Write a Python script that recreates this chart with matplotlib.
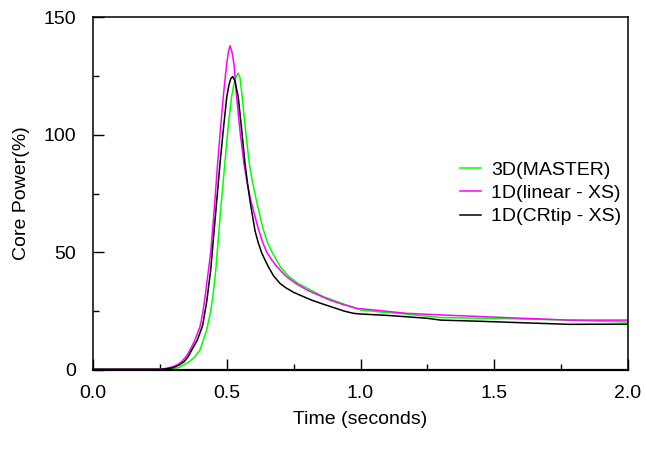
import matplotlib
matplotlib.use('Agg')
import matplotlib.pyplot as plt
from matplotlib.ticker import MultipleLocator, FormatStrFormatter

plt.rcParams['font.family'] = ['Liberation Sans', 'DejaVu Sans']

# 3D(MASTER)
t_master = [0.0, 0.28, 0.32, 0.36, 0.38, 0.40, 0.412, 0.425, 0.44, 0.45, 0.459, 0.475,
            0.493, 0.506, 0.518, 0.526, 0.535, 0.543, 0.549, 0.556, 0.570, 0.584, 0.596,
            0.609, 0.623, 0.637, 0.653, 0.67, 0.685, 0.699, 0.73, 0.766, 0.80, 0.83,
            0.86, 0.897, 0.95, 1.0, 1.08, 1.15, 1.30, 1.45, 1.6, 1.78, 1.9, 2.0]
p_master = [0.3, 0.3, 1.0, 3.5, 5.5, 8.5, 12.7, 17.0, 25.0, 33.0, 42.5, 65.0,
            88.0, 104.0, 116.0, 121.0, 124.8, 126.1, 124.5, 118.0, 102.0, 88.0, 80.0,
            73.0, 66.0, 59.5, 54.0, 50.0, 47.0, 44.0, 40.0, 36.8, 34.8, 33.0,
            31.2, 29.7, 27.5, 25.5, 24.6, 24.0, 22.3, 22.0, 21.7, 21.2, 20.7, 20.4]

# 1D(linear-XS)
t_linear = [0.0, 0.25, 0.28, 0.30, 0.32, 0.335, 0.35, 0.365, 0.381, 0.40, 0.41, 0.42,
            0.43, 0.44, 0.453, 0.466, 0.477, 0.487, 0.494, 0.500, 0.506, 0.512, 0.520,
            0.527, 0.537, 0.550, 0.564, 0.577, 0.59, 0.606, 0.618, 0.635, 0.65, 0.67,
            0.687, 0.72, 0.755, 0.80, 0.85, 0.886, 0.93, 0.986, 1.05, 1.17, 1.30, 1.45,
            1.6, 1.78, 2.0]
p_linear = [0.3, 0.3, 0.8, 1.5, 2.5, 4.0, 6.0, 9.0, 12.7, 18.4, 24.0, 32.0,
            41.0, 50.0, 68.0, 88.0, 103.0, 116.0, 124.0, 130.3, 135.0, 137.8, 135.0,
            130.0, 116.0, 101.0, 88.0, 79.0, 72.0, 65.0, 60.0, 54.0, 50.0, 46.5,
            44.0, 40.0, 37.0, 34.0, 31.5, 29.7, 28.0, 26.2, 25.5, 24.1, 23.4, 22.7,
            22.0, 21.2, 21.2]

# 1D(CRtip-XS)
t_crtip = [0.0, 0.26, 0.30, 0.32, 0.34, 0.355, 0.369, 0.39, 0.41, 0.425, 0.44, 0.458,
           0.475, 0.488, 0.500, 0.508, 0.515, 0.522, 0.530, 0.543, 0.555, 0.568, 0.578,
           0.588, 0.597, 0.606, 0.618, 0.630, 0.642, 0.655, 0.675, 0.699, 0.72, 0.75,
           0.78, 0.817, 0.86, 0.9, 0.94, 0.973, 1.0, 1.1, 1.247, 1.30, 1.45, 1.6,
           1.78, 2.0]
p_crtip = [0.3, 0.3, 1.0, 2.0, 3.5, 5.5, 8.5, 12.7, 19.0, 29.0, 42.5, 66.0,
           88.0, 103.0, 116.0, 121.0, 123.8, 124.7, 123.0, 116.0, 103.0, 88.0, 79.0,
           71.0, 65.0, 59.0, 54.0, 50.0, 47.0, 44.0, 40.0, 36.8, 35.0, 33.0,
           31.5, 29.7, 28.0, 26.5, 25.0, 24.1, 23.8, 23.2, 22.0, 21.2, 20.7, 20.1,
           19.4, 19.5]

fig = plt.figure(figsize=(6.46, 4.49), dpi=100)
ax = fig.add_axes([93/646, 79/449, 535/646, 353/449])

ax.plot(t_master, p_master, color='#00ff00', lw=1.1, label='3D(MASTER)')
ax.plot(t_linear, p_linear, color='#ff00ff', lw=1.1, label='1D(linear - XS)')
ax.plot(t_crtip, p_crtip, color='black', lw=1.1, label='1D(CRtip - XS)')

ax.set_xlim(0, 2.0)
ax.set_ylim(0, 150)
ax.xaxis.set_major_locator(MultipleLocator(0.5))
ax.xaxis.set_minor_locator(MultipleLocator(0.25))
ax.yaxis.set_major_locator(MultipleLocator(50))
ax.yaxis.set_minor_locator(MultipleLocator(25))
ax.xaxis.set_major_formatter(FormatStrFormatter('%.1f'))
ax.tick_params(which='major', direction='in', length=8, width=1.0, labelsize=14)
ax.tick_params(which='minor', direction='in', length=4.5, width=1.0)
ax.tick_params(axis='x', which='major', pad=11)
ax.tick_params(axis='y', which='major', pad=12)

for s in ax.spines.values():
    s.set_linewidth(1.1)
ax.spines['bottom'].set_linewidth(1.6)

ax.set_xlabel('Time (seconds)', fontsize=14, labelpad=6)
ax.set_ylabel('Core Power(%)', fontsize=14, labelpad=10)

ax.legend(loc='center left', bbox_to_anchor=(0.686, 0.501), frameon=False,
          fontsize=14, handlelength=1.1, handletextpad=0.5, labelspacing=0.3,
          borderpad=0, borderaxespad=0)

fig.savefig('out.png', dpi=100)
